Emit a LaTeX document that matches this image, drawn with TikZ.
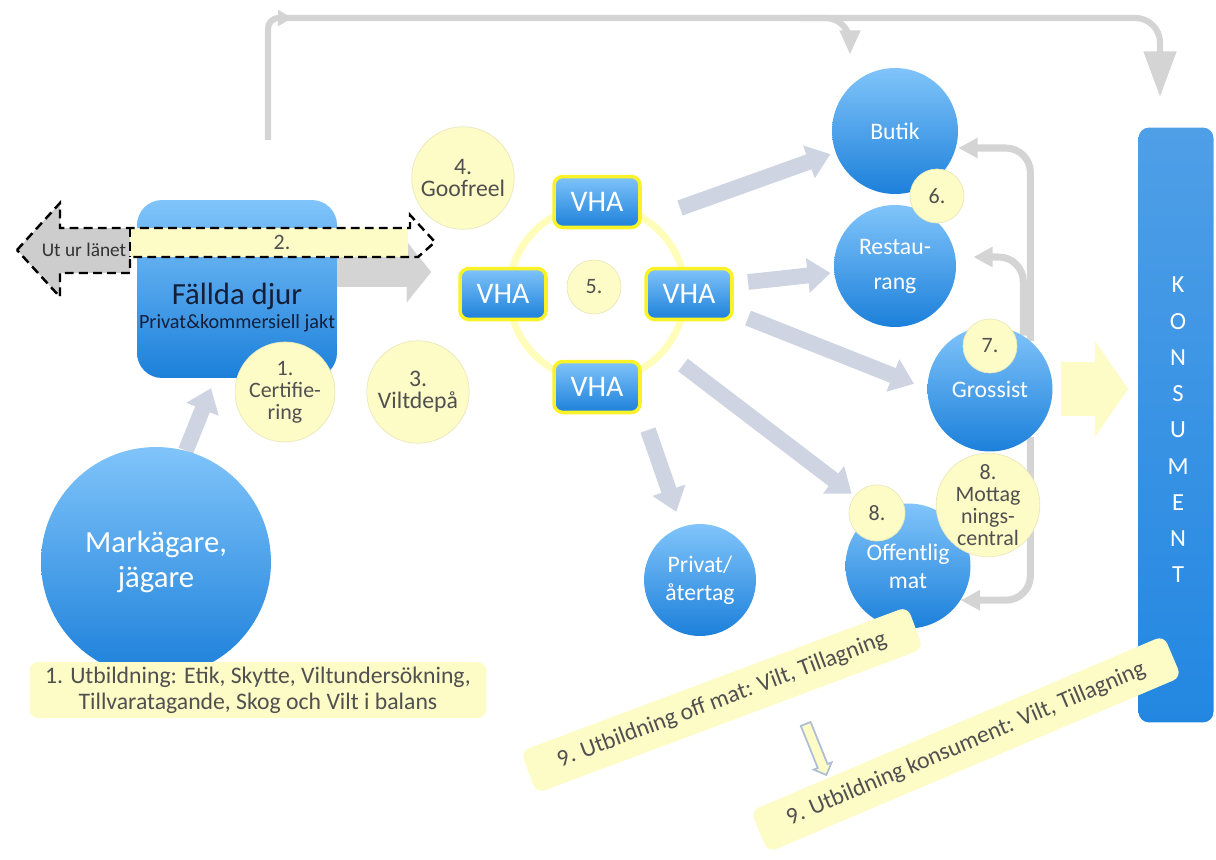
\documentclass[tikz,border=0pt]{standalone}
\usepackage{fontspec}
\setmainfont{Carlito}
\usetikzlibrary{arrows.meta,shapes.arrows,backgrounds}

\definecolor{bluetop}{RGB}{128,196,250}
\definecolor{bluebot}{RGB}{28,128,218}
\definecolor{konsblue}{RGB}{35,135,225}
\definecolor{ylw}{RGB}{253,251,198}
\definecolor{ylwtext}{RGB}{80,80,80}
\definecolor{flowgray}{RGB}{206,212,226}
\definecolor{loopgray}{RGB}{212,212,212}
\definecolor{uturgray}{RGB}{205,205,205}
\definecolor{vhayellow}{RGB}{250,242,40}
\definecolor{ringyellow}{RGB}{255,253,185}
\definecolor{downblue}{RGB}{175,190,215}
\definecolor{textdark}{RGB}{20,30,55}

\begin{document}
\begin{tikzpicture}[x=0.02cm,y=-0.02cm,
    bluecircle/.style={circle,top color=bluetop,bottom color=bluebot,text=white,align=center,inner sep=0pt,font=\fontsize{13.5}{16}\selectfont},
    ylwcircle/.style={circle,fill=ylw,draw=ylw!85!gray,line width=0.4pt,text=ylwtext,align=center,inner sep=0pt,font=\fontsize{12.5}{12.5}\selectfont},
    vhabox/.style={rounded corners=5pt,top color=bluetop,bottom color=bluebot,draw=vhayellow,line width=2pt,text=white,minimum width=1.72cm,minimum height=1.02cm,font=\fontsize{17}{20}\selectfont},
    ylwbox/.style={rounded corners=5pt,fill=ylw,text=ylwtext,align=center,inner sep=0pt,font=\fontsize{13.5}{14.7}\selectfont},
    flowarrow/.style={draw=flowgray,line width=9pt,-{Triangle[width=19pt,length=13pt]}},
    backarrow/.style={draw=loopgray,line width=4pt,rounded corners=14pt,-{Triangle[width=11pt,length=11pt]}},
    loopline/.style={draw=loopgray,line width=3.5pt,rounded corners=14pt}
]
    \pgfmathsetmacro{\smallcircle}{1.08}
    \pgfmathsetmacro{\ylwcircle}{2.05}
    \providecommand{\konsfontsize}{\fontsize{14}{16}\selectfont}
    \providecommand{\bigcirclefont}{\fontsize{13.5}{12.5}\selectfont}
    \useasboundingbox (0,0) rectangle (1216,859);

    % left side
    \node[bluecircle,minimum size=4.6cm,font=\fontsize{17.5}{20}\selectfont] (markagare) at (156,562) {Markägare,\\jägare};
    \node[rounded corners=0.5cm,top color=bluetop,bottom color=bluebot,minimum width=4cm,minimum height=3.56cm] (fallda) at (237,289) {};
    \node[text=textdark,font=\fontsize{17.5}{20}\selectfont] (falldatitle) at (237,296) {Fällda djur};
    \node[text=textdark,font=\fontsize{11.5}{13}\selectfont] (falldasub) at (237,323) {Privat\&kommersiell jakt};
    \node[ylwcircle,minimum size=2cm] (cert) at (285,392) {1.\\Certifie-\\ring};
    \node[ylwcircle,minimum size=\ylwcircle cm,font=\bigcirclefont] (viltdepa) at (418,392) {3.\\Viltdepå};
    \node[ylwcircle,minimum size=\ylwcircle cm,font=\bigcirclefont] (goofreel) at (463,178) {4.\\Goofreel};
    \node[ylwbox,minimum width=9.14cm,minimum height=1.12cm] (utb1) at (258,690) {1. Utbildning: Etik, Skytte, Viltundersökning,\\Tillvaratagande, Skog och Vilt i balans};

    % dashed double arrow
    \fill[uturgray] (17,250) -- (60,203) -- (60,228) -- (130,228) -- (130,273) -- (60,273) -- (60,297) -- cycle;
    \fill[ylw] (130,228) rectangle (408,257);
    \draw[line width=1.4pt,dash pattern=on 5pt off 3pt] (17,250) -- (60,203) -- (60,228) -- (410,228) -- (410,215) -- (435,242) -- (418,257) -- (130,257) -- (130,273) -- (60,273) -- (60,297) -- cycle;
    \draw[line width=1.4pt,dash pattern=on 5pt off 3pt] (130,228) -- (130,257);
    \node[text=black!80,font=\fontsize{11}{12}\selectfont] (utur) at (84,250) {Ut ur länet};
    \node[text=ylwtext,font=\fontsize{12.5}{13}\selectfont] (two) at (282,242) {2.};

    % VHA ring
    \node[circle,draw=ringyellow,line width=4pt,minimum size=3.52cm] (ring) at (597,293) {};
    \node[vhabox] (vhaT) at (597,202) {VHA};
    \node[vhabox] (vhaL) at (503,294) {VHA};
    \node[vhabox] (vhaR) at (689,294) {VHA};
    \node[vhabox] (vhaB) at (597,387) {VHA};
    \node[ylwcircle,minimum size=\smallcircle cm] (five) at (594,287) {5.};

    % right side
    \node[bluecircle,minimum size=2.52cm] (butik) at (895,131) {Butik};
    \node[bluecircle,minimum size=2.44cm,font=\fontsize{13.5}{20}\selectfont] (restaurang) at (895,266) {Restau-\\rang};
    \node[bluecircle,minimum size=2.5cm] (grossist) at (990,389) {Grossist};
    \node[bluecircle,minimum size=2.5cm] (offentlig) at (908,566) {Offentlig\\mat};
    \node[bluecircle,minimum size=2.24cm] (privat) at (700,580) {Privat/\\återtag};
    \node[ylwcircle,minimum size=\smallcircle cm] (six) at (937,196) {6.};
    \node[ylwcircle,minimum size=\smallcircle cm] (seven) at (990,346) {7.};
    \node[ylwcircle,minimum size=1.12cm] (eight) at (877,513) {8.};
    \node[ylwcircle,minimum size=2cm] (mottag) at (988,505) {8.\\Mottag\\nings-\\central};

    \node[rounded corners=6pt,top color=konsblue!80!white,bottom color=konsblue,minimum width=1.5cm,minimum height=11.9cm] (konsument) at (1176,425) {};
    \foreach \letter [count=\i] in {K,O,N,S,U,M,E,N,T}
        \node[text=white,font=\konsfontsize] (kons\i) at (1178,{285+36.25*(\i-1)}) {\letter};

    \node[ylwbox,rotate=20.5,minimum width=8.26cm,minimum height=0.9cm] (utb9a) at (722,700) {9. Utbildning off mat: Vilt, Tillagning};
    \node[ylwbox,rotate=23,minimum width=8.98cm,minimum height=0.9cm] (utb9b) at (966,744) {9. Utbildning konsument: Vilt, Tillagning};
    \node[single arrow,draw=downblue,fill=ylw,line width=1pt,rotate=-68,minimum height=1.1cm,minimum width=0.36cm,single arrow head extend=2.5pt,inner sep=2.5pt] (down9) at (815,747) {};

    \begin{scope}[on background layer]
        \coordinate (loopstart) at (268,140);
        \coordinate (loopend) at (1160,97);
        \coordinate (branchend) at (850,55);
        \draw[loopline,rounded corners=6pt,-{Triangle[width=9pt,length=8pt]}] (loopstart) |- (292,18);
        \draw[loopline,-{Triangle[width=18pt,length=26pt]}] (280,18) -| (loopend);
        \draw[loopline,-{Triangle[width=11pt,length=14pt]}] (800,18) -| (branchend);

        \draw[flowarrow,shorten >=6pt] (markagare.75) -- ([xshift=-0.44cm]fallda.south);
        \draw[draw=loopgray,line width=17pt,-{Triangle[width=34pt,length=14pt]},shorten >=0.54cm] ([yshift=0.34cm]fallda.east) -- ([yshift=0.34cm]fallda.east -| vhaL.west);

        \coordinate (t1) at (680,208);
        \coordinate (t2) at (748,282);
        \coordinate (t3) at (748,318);
        \coordinate (t4) at (683,365);
        \coordinate (t5) at (648,430);
        \draw[flowarrow,shorten >=3pt] (t1) -- (butik);
        \draw[flowarrow,shorten >=2pt] (t2) -- (restaurang);
        \draw[flowarrow,shorten >=8pt] (t3) -- (grossist.west);
        \draw[flowarrow,shorten >=2pt] (t4) -- (eight);
        \draw[flowarrow,shorten >=9pt] (t5) -- (privat);

        \draw[backarrow] (grossist.50) |- ([yshift=-0.34cm]butik.east);
        \draw[backarrow,shorten >=0.34cm] (grossist.58) |- ([yshift=0.18cm]restaurang.east);
        \draw[backarrow] (grossist.-50) |- (offentlig.-33);

        \draw[draw=ylw,line width=31pt,-{Triangle[width=54pt,length=19pt]},shorten <=0.16cm,shorten >=0.2cm] (grossist.east) -- (grossist.east -| konsument.west);
    \end{scope}
\end{tikzpicture}
\end{document}
